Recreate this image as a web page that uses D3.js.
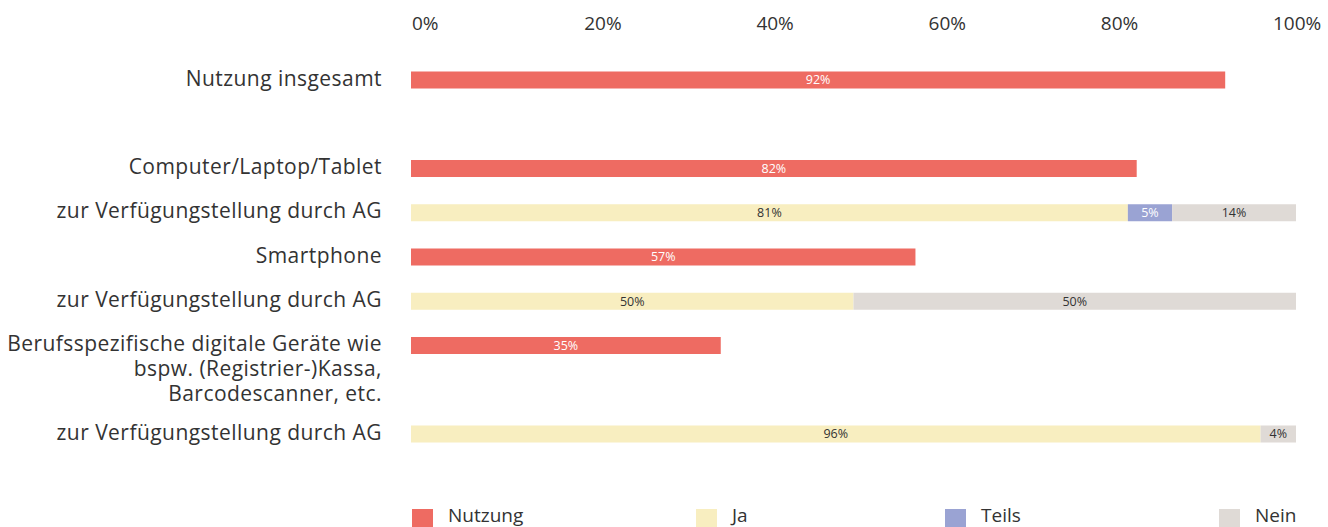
<!DOCTYPE html>
<html>
<head>
<meta charset="utf-8">
<script src="https://cdn.jsdelivr.net/npm/d3@7/dist/d3.min.js"></script>
<style>
  html, body { margin: 0; padding: 0; background: #fff; }
  svg { display: block; font-family: "Open Sans", "Noto Sans", sans-serif; }
</style>
</head>
<body>
<svg id="chart" width="1328" height="527"></svg>
<script>
// Row slots, top to bottom (s* = empty spacer slots)
const rowKeys = ["r0", "s1", "r1", "r2", "r3", "r4", "r5", "s2", "r6"];
const rowLabels = {
  r0: ["Nutzung insgesamt"],
  r1: ["Computer/Laptop/Tablet"],
  r2: ["zur Verfügungstellung durch AG"],
  r3: ["Smartphone"],
  r4: ["zur Verfügungstellung durch AG"],
  r5: ["Berufsspezifische digitale Geräte wie", "bspw. (Registrier-)Kassa,", "Barcodescanner, etc."],
  r6: ["zur Verfügungstellung durch AG"]
};

// Usage share (percent)
const nutzungRows = ["r0", "r1", "r3", "r5"];
const nutzungValues = [92, 82, 57, 35];

// Provided by employer: yes / partly / no (percent)
const providedRows = ["r2", "r4", "r6"];
const jaValues    = [81, 50, 96];
const teilsValues = [5, 0, 0];
const neinValues  = [14, 50, 4];

const tickLabels = ["0%", "20%", "40%", "60%", "80%", "100%"];
const legendItems = ["Nutzung", "Ja", "Teils", "Nein"];

const colors = {
  Nutzung: "#EE6B62",
  Ja: "#F8EEC0",
  Teils: "#9AA3D3",
  Nein: "#DFDAD6"
};
const labelColor = { Nutzung: "#ffffff", Ja: "#333333", Teils: "#ffffff", Nein: "#333333" };

const svg = d3.select("#chart");

const x = d3.scaleLinear().domain([0, 100]).range([411, 1296]);
const y = d3.scalePoint().domain(rowKeys).range([80, 434]);
const barH = 17;

// Top percentage labels, spread across the plot width
const tickPos = d3.scalePoint().domain(tickLabels).range([412, 1273]);
svg.append("g").selectAll("text")
  .data(tickLabels)
  .join("text")
  .attr("x", d => tickPos(d))
  .attr("y", 25)
  .attr("dominant-baseline", "middle")
  .attr("font-size", 19)
  .attr("fill", "#333")
  .text(d => d);

// Row labels
const lab = svg.append("g");
Object.entries(rowLabels).forEach(([k, lines]) => {
  const t = lab.append("text")
    .attr("text-anchor", "end")
    .attr("font-size", 21)
    .attr("letter-spacing", 0.45)
    .attr("fill", "#333");
  lines.forEach((ln, i) => {
    t.append("tspan")
      .attr("x", 382)
      .attr("y", y(k) + i * 25)
      .attr("dominant-baseline", "middle")
      .text(ln);
  });
});

// Assemble bar segments
const segs = [];
nutzungRows.forEach((r, i) => {
  segs.push({ row: r, key: "Nutzung", x0: 0, x1: nutzungValues[i], v: nutzungValues[i] });
});
providedRows.forEach((r, i) => {
  let acc = 0;
  [["Ja", jaValues[i]], ["Teils", teilsValues[i]], ["Nein", neinValues[i]]].forEach(([k, v]) => {
    if (v > 0) segs.push({ row: r, key: k, x0: acc, x1: acc + v, v });
    acc += v;
  });
});

const bars = svg.append("g");
bars.selectAll("rect")
  .data(segs)
  .join("rect")
  .attr("x", d => x(d.x0))
  .attr("y", d => y(d.row) - barH / 2)
  .attr("width", d => x(d.x1) - x(d.x0))
  .attr("height", barH)
  .attr("fill", d => colors[d.key]);

bars.selectAll("text")
  .data(segs)
  .join("text")
  .attr("x", d => (x(d.x0) + x(d.x1)) / 2)
  .attr("y", d => y(d.row) + 1)
  .attr("text-anchor", "middle")
  .attr("dominant-baseline", "middle")
  .attr("font-size", 12.5)
  .attr("fill", d => labelColor[d.key])
  .text(d => d.v + "%");

// Legend
const legX = d3.scaleOrdinal().domain(legendItems).range([412, 696, 945, 1219]);
const leg = svg.append("g").selectAll("g")
  .data(legendItems)
  .join("g")
  .attr("transform", d => `translate(${legX(d)},509)`);
leg.append("rect")
  .attr("width", 21).attr("height", 20)
  .attr("fill", d => colors[d]);
leg.append("text")
  .attr("x", 36).attr("y", 8)
  .attr("dominant-baseline", "middle")
  .attr("font-size", 19)
  .attr("fill", "#333")
  .text(d => d);
</script>
</body>
</html>
